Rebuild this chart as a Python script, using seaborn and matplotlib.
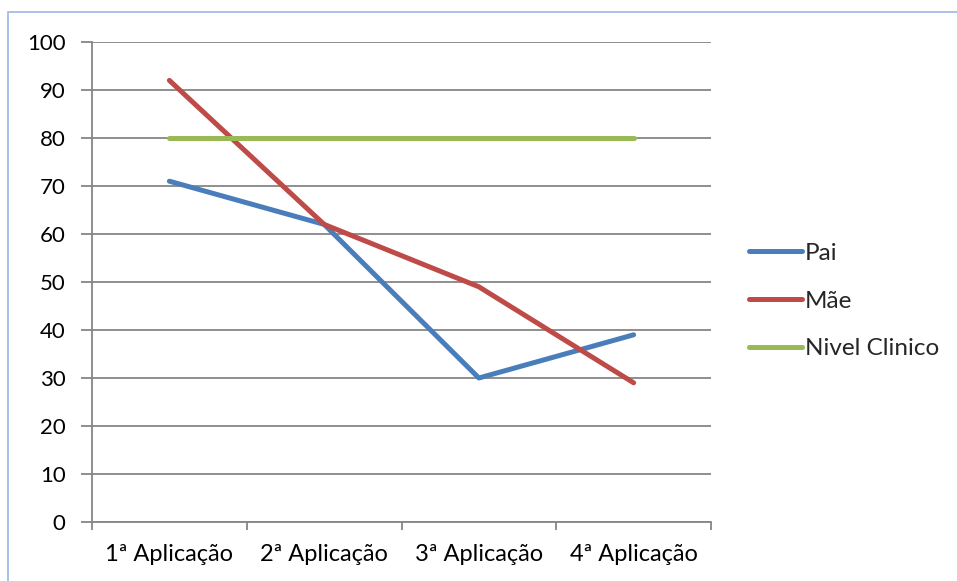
import matplotlib
matplotlib.use("Agg")
import matplotlib.pyplot as plt
import seaborn as sns
import pandas as pd
from matplotlib.patches import Rectangle

categories = ["1ª Aplicação", "2ª Aplicação", "3ª Aplicação", "4ª Aplicação"]
pai = [71, 62, 30, 39]
mae = [92, 62, 49, 29]
nivel_clinico = [80, 80, 80, 80]
series_names = ["Pai", "Mãe", "Nivel Clinico"]
colors = ["#4A7EBB", "#BE4B48", "#98B954"]
y_ticks = list(range(0, 101, 10))

sns.set_theme(style="white")
plt.rcParams["font.family"] = ["Lato", "DejaVu Sans"]

rows = []
for name, vals in zip(series_names, [pai, mae, nivel_clinico]):
    for c, v in zip(categories, vals):
        rows.append({"Aplicação": c, "Valor": v, "Série": name})
df = pd.DataFrame(rows)

fig = plt.figure(figsize=(9.57, 5.81), dpi=100)
ax = fig.add_axes([92 / 957, 1 - 522 / 581, (711 - 92) / 957, (522 - 42) / 581])

# outer chart border
fig.patches.append(Rectangle((8 / 957, -0.1), 1.2, (581 - 12) / 581 + 0.1,
                             transform=fig.transFigure, fill=False,
                             edgecolor="#9BB7E8", linewidth=1.2))

sns.lineplot(data=df, x="Aplicação", y="Valor", hue="Série", palette=colors,
             linewidth=3.6, ax=ax, sort=False, legend=True)
for line in ax.get_lines():
    line.set_solid_capstyle("round")
    line.set_solid_joinstyle("round")

ax.set_xlim(-0.5, 3.5)
ax.set_ylim(0, 100)
ax.set_yticks(y_ticks)
ax.set_yticklabels([str(t) for t in y_ticks], fontsize=16, color="#000000")
ax.yaxis.grid(True, color="#868686", linewidth=1.3)
ax.set_axisbelow(True)

# category boundaries carry the tick marks, centers carry the labels
ax.set_xticks([-0.5, 0.5, 1.5, 2.5, 3.5])
ax.set_xticklabels([])
ax.set_xticks(range(len(categories)), minor=True)
ax.set_xticklabels(categories, minor=True, fontsize=17, color="#000000")
ax.tick_params(axis="x", which="major", length=6, width=1.3, color="#868686", direction="out", bottom=True)
ax.tick_params(axis="x", which="minor", length=0, pad=16)
ax.tick_params(axis="y", length=8, width=1.3, color="#868686", direction="out", left=True, pad=11)

for side in ["top", "right"]:
    ax.spines[side].set_visible(False)
for side in ["left", "bottom"]:
    ax.spines[side].set_color("#868686")
    ax.spines[side].set_linewidth(1.3)

ax.set_xlabel("")
ax.set_ylabel("")

handles, labels = ax.get_legend_handles_labels()
ax.get_legend().remove()
for h in handles:
    h.set_solid_capstyle("round")
    h.set_linewidth(3.6)
fig.legend(handles, labels, loc="center left", bbox_to_anchor=(749 / 957, 1 - 301 / 581),
           frameon=False, fontsize=17.5, handlelength=2.2, handletextpad=0.1,
           labelspacing=1.1, borderaxespad=0, borderpad=0)

fig.savefig("out.png", dpi=100)
